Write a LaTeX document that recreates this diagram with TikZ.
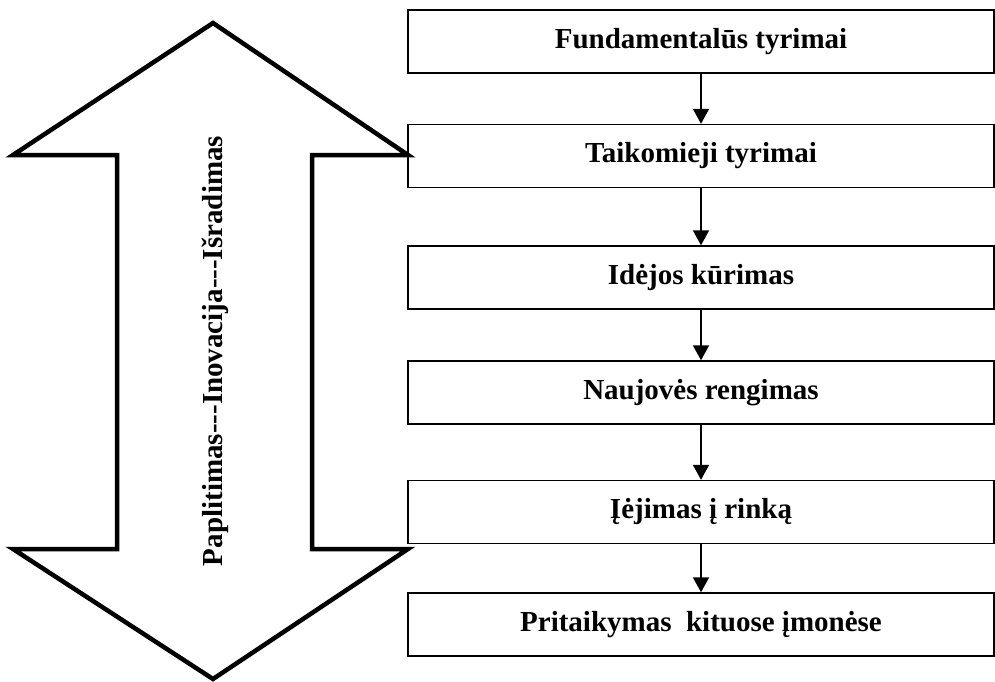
\documentclass[tikz,border=0pt]{standalone}
\usepackage{fontspec}
\setmainfont{Liberation Serif}
\usetikzlibrary{arrows.meta}
\begin{document}
\begin{tikzpicture}[x=1pt,y=-1pt,
  label font/.style={font=\fontsize{29}{34}\selectfont\bfseries},
  stage/.style={draw=black,line width=1.4pt,minimum width=586pt,minimum height=63pt,
    inner sep=0pt,label font},
  flow/.style={line width=1.8pt,-{Triangle[length=15pt,width=16pt]}},
  bigarrow/.style={draw=black,line width=4.5pt,line join=miter,fill=white}]
\useasboundingbox (0,0) rectangle (995,682);
% double-headed block arrow
\path[bigarrow] (213,23) -- (13,155) -- (117,155) -- (117,549) -- (13,549) -- (213,679)
  -- (408,549) -- (312,549) -- (312,155) -- (408,155) -- cycle;
\node[rotate=90,label font] (axis) at (215,351)
  {Paplitimas-{}-{}-Inovacija-{}-{}-Išradimas};
% stages
\node[stage] (b1) at (701,41.5) {Fundamentalūs tyrimai};
\node[stage] (b2) at (701,156) {Taikomieji tyrimai};
\node[stage] (b3) at (701,277.5) {Idėjos kūrimas};
\node[stage] (b4) at (701,392.5) {Naujovės rengimas};
\node[stage] (b5) at (701,512) {Įėjimas į rinką};
\node[stage] (b6) at (701,624.5) {Pritaikymas\ \ kituose įmonėse};
\foreach \a/\b in {b1/b2,b2/b3,b3/b4,b4/b5,b5/b6}
  \draw[flow] (\a.south) -- (\b.north);
\end{tikzpicture}
\end{document}
